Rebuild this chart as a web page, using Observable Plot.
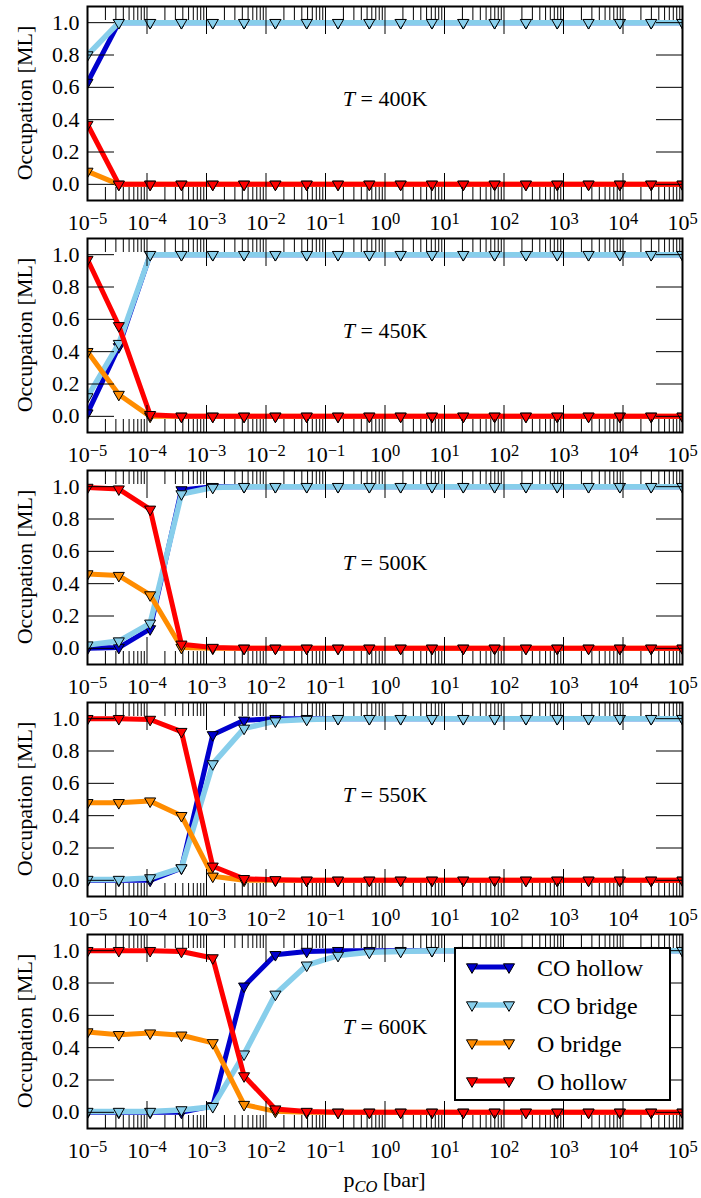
<!DOCTYPE html>
<html>
<head>
<meta charset="utf-8">
<script src="https://cdn.jsdelivr.net/npm/d3@7"></script>
<script src="https://cdn.jsdelivr.net/npm/@observablehq/plot@0.6"></script>
<style>
  body { margin: 0; background: #fff; }
  #chart { position: relative; width: 701px; padding-top: 4px; font-family: "Liberation Serif", serif; }
  #chart > svg { display: block; }
  #legend { position: absolute; left: 454px; top: 947px; }
</style>
</head>
<body>
<div id="chart"></div>
<script>
// CO pressure grid (bar), one sample per point on each curve
const pressures = [1e-5, 3.36e-5, 1.129e-4, 3.793e-4, 1.274e-3, 4.281e-3, 1.438e-2, 4.833e-2, 0.1624, 0.5456,
                   1.833, 6.158, 20.69, 69.52, 233.6, 784.8, 2637, 8859, 29764, 1e5];

const temperatures = [400, 450, 500, 550, 600];

const seriesNames = ["CO hollow", "CO bridge", "O bridge", "O hollow"];
const seriesColors = ["#0000cd", "#87ceeb", "#ff8c00", "#ff0000"];
const seriesWidths = [5, 5.5, 5, 5];

// Occupation [ML], one row per temperature
const coHollow = [
  [0.63, 1, 1, 1, 1, 1, 1, 1, 1, 1, 1, 1, 1, 1, 1, 1, 1, 1, 1, 1],
  [0.02, 0.43, 1, 1, 1, 1, 1, 1, 1, 1, 1, 1, 1, 1, 1, 1, 1, 1, 1, 1],
  [0.0, 0.005, 0.12, 0.98, 1, 1, 1, 1, 1, 1, 1, 1, 1, 1, 1, 1, 1, 1, 1, 1],
  [0.0, 0.0, 0.0, 0.075, 0.90, 0.99, 1, 1, 1, 1, 1, 1, 1, 1, 1, 1, 1, 1, 1, 1],
  [0.0, 0.0, 0.0, 0.0, 0.04, 0.78, 0.975, 0.995, 1, 1, 1, 1, 1, 1, 1, 1, 1, 1, 1, 1]
];
const coBridge = [
  [0.80, 1, 1, 1, 1, 1, 1, 1, 1, 1, 1, 1, 1, 1, 1, 1, 1, 1, 1, 1],
  [0.12, 0.45, 1, 1, 1, 1, 1, 1, 1, 1, 1, 1, 1, 1, 1, 1, 1, 1, 1, 1],
  [0.02, 0.045, 0.155, 0.955, 0.995, 1, 1, 1, 1, 1, 1, 1, 1, 1, 1, 1, 1, 1, 1, 1],
  [0.005, 0.005, 0.015, 0.077, 0.72, 0.94, 0.985, 0.995, 1, 1, 1, 1, 1, 1, 1, 1, 1, 1, 1, 1],
  [0.005, 0.005, 0.005, 0.015, 0.035, 0.36, 0.73, 0.91, 0.97, 0.99, 0.995, 1, 1, 1, 1, 1, 1, 1, 1, 1]
];
const oBridge = [
  [0.08, 0, 0, 0, 0, 0, 0, 0, 0, 0, 0, 0, 0, 0, 0, 0, 0, 0, 0, 0],
  [0.40, 0.135, 0, 0, 0, 0, 0, 0, 0, 0, 0, 0, 0, 0, 0, 0, 0, 0, 0, 0],
  [0.46, 0.45, 0.33, 0.005, 0, 0, 0, 0, 0, 0, 0, 0, 0, 0, 0, 0, 0, 0, 0, 0],
  [0.48, 0.48, 0.49, 0.40, 0.025, 0, 0, 0, 0, 0, 0, 0, 0, 0, 0, 0, 0, 0, 0, 0],
  [0.497, 0.48, 0.49, 0.477, 0.43, 0.048, 0.006, 0, 0, 0, 0, 0, 0, 0, 0, 0, 0, 0, 0, 0]
];
const oHollow = [
  [0.37, 0, 0, 0, 0, 0, 0, 0, 0, 0, 0, 0, 0, 0, 0, 0, 0, 0, 0, 0],
  [0.97, 0.56, 0.01, 0, 0, 0, 0, 0, 0, 0, 0, 0, 0, 0, 0, 0, 0, 0, 0, 0],
  [0.995, 0.985, 0.86, 0.025, 0.005, 0, 0, 0, 0, 0, 0, 0, 0, 0, 0, 0, 0, 0, 0, 0],
  [1.0, 1.0, 0.995, 0.92, 0.087, 0.01, 0.003, 0, 0, 0, 0, 0, 0, 0, 0, 0, 0, 0, 0, 0],
  [1.0, 1.0, 1.0, 0.995, 0.955, 0.225, 0.02, 0.005, 0, 0, 0, 0, 0, 0, 0, 0, 0, 0, 0, 0]
];
const seriesValues = [coHollow, coBridge, oBridge, oHollow];

// Axis ticks
const xExponents = [-5, -4, -3, -2, -1, 0, 1, 2, 3, 4, 5];
const yTicks = [0.0, 0.2, 0.4, 0.6, 0.8, 1.0];

const majorX = xExponents.map(e => Math.pow(10, e));
const minorX = xExponents.slice(0, -1).flatMap(e => d3.range(2, 10).map(m => m * Math.pow(10, e)));

const FONT = "Liberation Serif, serif";
const markerR = 4.1;
const M = {top: 2, left: 87, right: 19, inner: 194};

const chart = document.getElementById("chart");

temperatures.forEach((T, t) => {
  const last = t === temperatures.length - 1;
  const marks = [];

  // each curve: thick line, then downward-triangle markers
  seriesNames.forEach((name, s) => {
    const rows = pressures.map((p, k) => ({p, v: seriesValues[s][t][k], series: name}));
    marks.push(Plot.line(rows, {x: "p", y: "v", stroke: seriesColors[s], strokeWidth: seriesWidths[s], clip: true}));
    marks.push(Plot.dot(rows, {x: "p", y: "v", symbol: "triangle", rotate: 180, r: markerR,
                               fill: seriesColors[s], stroke: "black", strokeWidth: 1, clip: true}));
  });

  // inward ticks on all four sides
  marks.push(
    Plot.axisX(majorX, {anchor: "bottom", tickSize: -27, fill: "none", label: null, stroke: "black"}),
    Plot.axisX(majorX, {anchor: "top", tickSize: -27, fill: "none", label: null, stroke: "black"}),
    Plot.axisX(minorX, {anchor: "bottom", tickSize: -13, fill: "none", label: null, stroke: "black"}),
    Plot.axisX(minorX, {anchor: "top", tickSize: -13, fill: "none", label: null, stroke: "black"}),
    Plot.axisY(yTicks, {anchor: "left", tickSize: -27, fill: "none", label: null, stroke: "black"}),
    Plot.axisY(yTicks, {anchor: "right", tickSize: -27, fill: "none", label: null, stroke: "black"}),
    Plot.axisX(majorX, {anchor: "bottom", tickSize: 0, tickPadding: 14, label: null, fill: "black",
                        fontSize: 22, fontFamily: FONT,
                        tickFormat: d => "10^" + String(Math.round(Math.log10(d))).replace("-", "\u2212")}),
    Plot.axisY(yTicks, {anchor: "left", tickSize: 0, tickPadding: 8, label: null, fill: "black",
                        fontSize: 22, fontFamily: FONT, tickFormat: d => d.toFixed(1)}),
    Plot.frame({stroke: "black", strokeWidth: 2}),
    Plot.text([`T = ${T}K`], {text: d => d, frameAnchor: "middle", dy: -5, fontSize: 22, fontFamily: FONT, fill: "black"})
  );

  const height = last ? 266 : 232;
  const svg = Plot.plot({
    width: 701,
    height,
    marginTop: M.top,
    marginBottom: height - M.top - M.inner,
    marginLeft: M.left,
    marginRight: M.right,
    style: {fontFamily: FONT, fontSize: "22px", background: "white", color: "black"},
    x: {type: "log", domain: [1e-5, 1e5]},
    y: {domain: [-0.1, 1.1]},
    marks
  });

  const root = d3.select(svg);
  // superscript exponents on the decade labels
  root.selectAll("text").filter(function () { return /^10\^/.test(this.textContent); }).each(function () {
    const exp = this.textContent.slice(3);
    const el = d3.select(this);
    el.text("10");
    el.append("tspan").attr("dy", "-0.4em").attr("font-size", "0.75em").text(exp);
  });
  // italic temperature symbol
  root.selectAll("text").filter(function () { return /^T = /.test(this.textContent); }).each(function () {
    const rest = this.textContent.slice(1);
    const el = d3.select(this);
    el.text("");
    el.append("tspan").attr("font-style", "italic").text("T");
    el.append("tspan").text("\u00a0" + rest.trim().replace(" ", "\u00a0"));
  });

  // y-axis title, rotated, centred on the frame
  root.append("text")
    .attr("transform", `translate(25,${M.top + M.inner / 2}) rotate(-90)`)
    .attr("text-anchor", "middle")
    .attr("dy", "0.32em")
    .attr("font-family", FONT)
    .attr("font-size", 22)
    .attr("fill", "black")
    .text("Occupation [ML]");

  // x-axis title with subscript, under the last panel
  if (last) {
    const xl = root.append("text")
      .attr("x", M.left + (701 - M.left - M.right) / 2)
      .attr("y", M.top + M.inner + 59)
      .attr("text-anchor", "middle")
      .attr("font-family", FONT)
      .attr("font-size", 22)
      .attr("fill", "black");
    xl.append("tspan").text("p");
    xl.append("tspan").attr("font-style", "italic").attr("font-size", "0.75em").attr("dy", "0.3em").text("CO");
    xl.append("tspan").attr("dy", "-0.225em").text("\u00a0[bar]");
  }

  chart.append(svg);
});

// Legend box drawn over the last panel
const lg = d3.select("#chart").append("svg")
  .attr("id", "legend")
  .attr("width", 218).attr("height", 156)
  .style("font-family", FONT);
lg.append("rect").attr("x", 1).attr("y", 1).attr("width", 215).attr("height", 152)
  .attr("fill", "white").attr("stroke", "black").attr("stroke-width", 2);
const tri = d3.symbol(d3.symbolTriangle, markerR * markerR * Math.PI);
seriesNames.forEach((name, s) => {
  const y = 20 + 38 * s;
  const g = lg.append("g");
  g.append("line").attr("x1", 18).attr("x2", 55).attr("y1", y).attr("y2", y)
    .attr("stroke", seriesColors[s]).attr("stroke-width", seriesWidths[s]);
  [18, 55].forEach(x => {
    g.append("path").attr("d", tri()).attr("transform", `translate(${x},${y}) rotate(180)`)
      .attr("fill", seriesColors[s]).attr("stroke", "black").attr("stroke-width", 1);
  });
  g.append("text").attr("x", 83).attr("y", y + 8.5).attr("font-size", 24).attr("fill", "black").text(name);
});
</script>
</body>
</html>
